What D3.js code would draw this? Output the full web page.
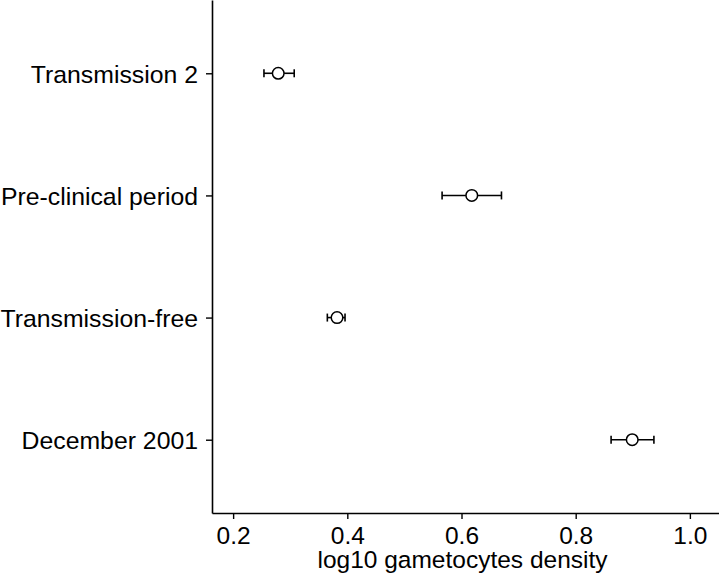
<!DOCTYPE html>
<html>
<head>
<meta charset="utf-8">
<script src="https://cdn.jsdelivr.net/npm/d3@7"></script>
<style>
    body { margin: 0; background: #fff; }
    text { font-family: "Liberation Sans", Arial, sans-serif; fill: #000; }
</style>
</head>
<body>
<div id="chart"></div>
<script>
// periods, top to bottom
const periods = ["Transmission 2", "Pre-clinical period", "Transmission-free", "December 2001"];
const meanDensity = [0.279, 0.618, 0.382, 0.899];
const lowerCI = [0.254, 0.566, 0.365, 0.862];
const upperCI = [0.307, 0.670, 0.396, 0.937];
const xTicks = [0.2, 0.4, 0.6, 0.8, 1.0];

const width = 719, height = 574;
var margin = { top: 0, right: 0, bottom: 61, left: 212 };
var plotW = width - margin.left - margin.right,
    plotH = height - margin.top - margin.bottom;

var svg = d3.select("#chart")
    .append("svg")
    .attr("width", width)
    .attr("height", height)
    .append("g")
    .attr("transform", "translate(" + margin.left + "," + margin.top + ")");

var x = d3.scaleLinear()
    .domain([0.163, 1.051])
    .range([0, plotW]);

// discrete axis, ggplot-like expansion of 0.6 on each side
var y = d3.scalePoint()
    .domain(periods)
    .range([0, plotH])
    .padding(0.6);

// x axis
var xAxis = svg.append("g")
    .attr("transform", "translate(0," + plotH + ")")
    .call(d3.axisBottom(x).tickValues(xTicks).tickFormat(d3.format(".1f"))
        .tickSizeInner(6).tickSizeOuter(0).tickPadding(8));
xAxis.select(".domain").attr("stroke-width", 1.6);
xAxis.selectAll(".tick line").attr("stroke-width", 1.4);
xAxis.selectAll(".tick text").style("font-size", "24.5px");

// y axis
var yAxis = svg.append("g")
    .call(d3.axisLeft(y).tickSizeInner(6).tickSizeOuter(0).tickPadding(8));
yAxis.select(".domain").attr("stroke-width", 1.6);
yAxis.selectAll(".tick line").attr("stroke-width", 1.4);
yAxis.selectAll(".tick text").style("font-size", "24.8px").attr("dy", "0.36em");

svg.append("text")
    .attr("x", plotW / 2 - 3)
    .attr("y", plotH + 55)
    .attr("text-anchor", "middle")
    .style("font-size", "24.5px")
    .text("log10 gametocytes density");

var data = periods.map((p, i) => ({ label: p, mean: meanDensity[i], lo: lowerCI[i], hi: upperCI[i] }));

var bars = svg.selectAll(".err")
    .data(data)
    .enter()
    .append("g")
    .attr("class", "err");

bars.append("line")
    .attr("x1", d => x(d.lo))
    .attr("x2", d => x(d.hi))
    .attr("y1", d => y(d.label))
    .attr("y2", d => y(d.label))
    .attr("stroke", "#000")
    .attr("stroke-width", 1.6);

bars.append("line")
    .attr("x1", d => x(d.lo))
    .attr("x2", d => x(d.lo))
    .attr("y1", d => y(d.label) - 4)
    .attr("y2", d => y(d.label) + 4)
    .attr("stroke", "#000")
    .attr("stroke-width", 1.6);

bars.append("line")
    .attr("x1", d => x(d.hi))
    .attr("x2", d => x(d.hi))
    .attr("y1", d => y(d.label) - 4)
    .attr("y2", d => y(d.label) + 4)
    .attr("stroke", "#000")
    .attr("stroke-width", 1.6);

bars.append("circle")
    .attr("cx", d => x(d.mean))
    .attr("cy", d => y(d.label))
    .attr("r", 5.8)
    .attr("fill", "#fff")
    .attr("stroke", "#000")
    .attr("stroke-width", 1.5);
</script>
</body>
</html>
